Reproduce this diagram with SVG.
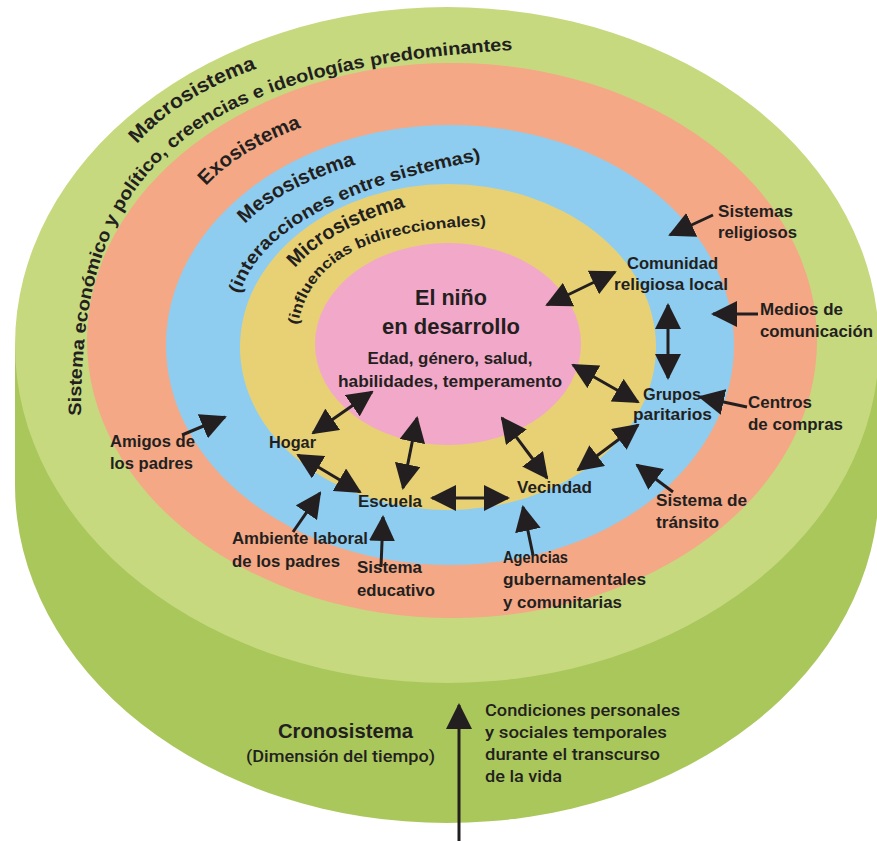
<svg xmlns="http://www.w3.org/2000/svg" width="877" height="841" viewBox="0 0 877 841">
<style>
.t{font-family:'Liberation Sans',Arial,sans-serif;font-weight:700;fill:#231f20;font-size:17px}
.c{text-anchor:middle}
.big{font-size:22px}
.arc{font-size:20px}
.arcs{font-size:18px}
.med{font-family:Roboto,'Liberation Sans',sans-serif;font-weight:500}
.ln{stroke:#231f20;stroke-width:3;fill:none}
.one{marker-end:url(#ah)}
.two{marker-start:url(#ah);marker-end:url(#ah)}
</style>
<defs>
<marker id="ah" markerUnits="userSpaceOnUse" viewBox="0 0 26 26" markerWidth="26" markerHeight="26" refX="24" refY="13" orient="auto-start-reverse">
<path d="M0,0 L26,13 L0,26 z" fill="#231f20"/>
</marker>
<path id="pMacro" d="M137 144 Q187 86 297 56"/>
<path id="pMacroSub" d="M81 416 C80 180 170 60 560 48"/>
<path id="pExo" d="M206 186 Q245 143 330 118"/>
<path id="pMeso" d="M245 224 Q284 183 379 158"/>
<path id="pMesoSub" d="M240 294 C255 240 330 185 500 157"/>
<path id="pMicro" d="M295 268 Q334 223 429 201"/>
<path id="pMicroSub" d="M298 325 C310 255 380 225 500 226"/>
</defs>
<rect width="877" height="841" fill="#ffffff"/>

<g id="cronosistema-cylinder">
<ellipse cx="447" cy="485" rx="432" ry="338" fill="#aac75b"/>
<rect x="15" y="345" width="864" height="140" fill="#aac75b"/>
</g>
<g id="macrosistema">
<ellipse cx="447" cy="345" rx="432" ry="338" fill="#c6d97f"/>
<text class="t arc"><textPath href="#pMacro" textLength="143" lengthAdjust="spacingAndGlyphs">Macrosistema</textPath></text>
<text class="t arcs"><textPath href="#pMacroSub" textLength="652" lengthAdjust="spacingAndGlyphs">Sistema económico y político, creencias e ideologías predominantes</textPath></text>
</g>
<g id="exosistema">
<ellipse cx="452" cy="340.5" rx="365" ry="277.5" fill="#f4a885"/>
<text class="t arc"><textPath href="#pExo" textLength="113" lengthAdjust="spacingAndGlyphs">Exosistema</textPath></text>
</g>
<g id="mesosistema">
<ellipse cx="450" cy="345" rx="284" ry="220" fill="#8ecdf0"/>
<text class="t arc"><textPath href="#pMeso" textLength="127" lengthAdjust="spacingAndGlyphs">Mesosistema</textPath></text>
<text class="t arcs"><textPath href="#pMesoSub" textLength="288" lengthAdjust="spacingAndGlyphs">(interacciones entre sistemas)</textPath></text>
</g>
<g id="microsistema">
<ellipse cx="448" cy="347" rx="208" ry="163" fill="#e8d174"/>
<text class="t arc"><textPath href="#pMicro" textLength="128" lengthAdjust="spacingAndGlyphs">Microsistema</textPath></text>
<text class="t" style="font-size:15px"><textPath href="#pMicroSub" textLength="232" lengthAdjust="spacingAndGlyphs">(influencias bidireccionales)</textPath></text>
</g>
<g id="nino">
<ellipse cx="448" cy="344" rx="133" ry="101" fill="#f2a8c8"/>
<text class="t c big" x="451" y="305" textLength="72" lengthAdjust="spacingAndGlyphs">El niño</text>
<text class="t c big" x="451" y="334" textLength="138" lengthAdjust="spacingAndGlyphs">en desarrollo</text>
<text class="t c" x="450" y="364" textLength="165" lengthAdjust="spacingAndGlyphs">Edad, género, salud,</text>
<text class="t c" x="450" y="387" textLength="224" lengthAdjust="spacingAndGlyphs">habilidades, temperamento</text>
</g>

<g id="connectors">
<line class="ln two" x1="547" y1="305" x2="615" y2="272"/>
<line class="ln two" x1="668" y1="305" x2="668" y2="378"/>
<line class="ln two" x1="573" y1="365" x2="638" y2="402"/>
<line class="ln two" x1="372" y1="392" x2="313" y2="433"/>
<line class="ln two" x1="417" y1="418" x2="403" y2="488"/>
<line class="ln two" x1="502" y1="418" x2="547" y2="478"/>
<line class="ln two" x1="638" y1="425" x2="578" y2="470"/>
<line class="ln two" x1="298" y1="455" x2="360" y2="492"/>
<line class="ln two" x1="432" y1="498" x2="508" y2="498"/>
<line class="ln one" x1="713" y1="215" x2="670" y2="235"/>
<line class="ln one" x1="758" y1="314" x2="713" y2="314"/>
<line class="ln one" x1="747" y1="407" x2="700" y2="397"/>
<line class="ln one" x1="673" y1="492" x2="637" y2="465"/>
<line class="ln one" x1="533" y1="555" x2="523" y2="507"/>
<line class="ln one" x1="381" y1="567" x2="383" y2="517"/>
<line class="ln one" x1="293" y1="532" x2="320" y2="493"/>
<line class="ln one" x1="182" y1="435" x2="225" y2="417"/>
<line class="ln one" x1="459" y1="841" x2="459" y2="705"/>
</g>

<g id="sistemas-religiosos">
<text class="t" x="718" y="217" textLength="75" lengthAdjust="spacingAndGlyphs">Sistemas</text>
<text class="t" x="718" y="238" textLength="79" lengthAdjust="spacingAndGlyphs">religiosos</text>
</g>
<g id="comunidad-religiosa">
<text class="t" x="627" y="269" textLength="91" lengthAdjust="spacingAndGlyphs">Comunidad</text>
<text class="t" x="614" y="290" textLength="114" lengthAdjust="spacingAndGlyphs">religiosa local</text>
</g>
<g id="medios">
<text class="t" x="760" y="315" textLength="83" lengthAdjust="spacingAndGlyphs">Medios de</text>
<text class="t" x="760" y="337" textLength="113" lengthAdjust="spacingAndGlyphs">comunicación</text>
</g>
<g id="grupos">
<text class="t" x="643" y="400" textLength="58" lengthAdjust="spacingAndGlyphs">Grupos</text>
<text class="t" x="633" y="420" textLength="79" lengthAdjust="spacingAndGlyphs">paritarios</text>
</g>
<g id="centros">
<text class="t" x="748" y="408" textLength="64" lengthAdjust="spacingAndGlyphs">Centros</text>
<text class="t" x="748" y="430" textLength="95" lengthAdjust="spacingAndGlyphs">de compras</text>
</g>
<g id="transito">
<text class="t" x="656" y="506" textLength="91" lengthAdjust="spacingAndGlyphs">Sistema de</text>
<text class="t" x="656" y="528" textLength="63" lengthAdjust="spacingAndGlyphs">tránsito</text>
</g>
<g id="vecindad">
<text class="t" x="517" y="493" textLength="75" lengthAdjust="spacingAndGlyphs">Vecindad</text>
</g>
<g id="escuela">
<text class="t" x="358" y="507" textLength="64" lengthAdjust="spacingAndGlyphs">Escuela</text>
</g>
<g id="hogar">
<text class="t" x="269" y="448" textLength="47" lengthAdjust="spacingAndGlyphs">Hogar</text>
</g>
<g id="amigos">
<text class="t" x="110" y="447" textLength="85" lengthAdjust="spacingAndGlyphs">Amigos de</text>
<text class="t" x="110" y="469" textLength="83" lengthAdjust="spacingAndGlyphs">los padres</text>
</g>
<g id="ambiente">
<text class="t" x="232" y="544" textLength="136" lengthAdjust="spacingAndGlyphs">Ambiente laboral</text>
<text class="t" x="232" y="567" textLength="108" lengthAdjust="spacingAndGlyphs">de los padres</text>
</g>
<g id="sistema-educativo">
<text class="t" x="357" y="573" textLength="65" lengthAdjust="spacingAndGlyphs">Sistema</text>
<text class="t" x="357" y="596" textLength="78" lengthAdjust="spacingAndGlyphs">educativo</text>
</g>
<g id="agencias">
<text class="t" x="503" y="563" textLength="65" lengthAdjust="spacingAndGlyphs">Agencias</text>
<text class="t" x="503" y="585" textLength="143" lengthAdjust="spacingAndGlyphs">gubernamentales</text>
<text class="t" x="503" y="608" textLength="119" lengthAdjust="spacingAndGlyphs">y comunitarias</text>
</g>
<g id="cronosistema">
<text class="t" x="278" y="738" style="font-size:20px" textLength="135" lengthAdjust="spacingAndGlyphs">Cronosistema</text>
<text class="t med" x="246" y="762" textLength="189" lengthAdjust="spacingAndGlyphs">(Dimensión del tiempo)</text>
</g>
<g id="condiciones">
<text class="t med" x="485" y="716" textLength="195" lengthAdjust="spacingAndGlyphs">Condiciones personales</text>
<text class="t med" x="485" y="738" textLength="182" lengthAdjust="spacingAndGlyphs">y sociales temporales</text>
<text class="t med" x="485" y="760" textLength="175" lengthAdjust="spacingAndGlyphs">durante el transcurso</text>
<text class="t med" x="485" y="782" textLength="77" lengthAdjust="spacingAndGlyphs">de la vida</text>
</g>
</svg>
